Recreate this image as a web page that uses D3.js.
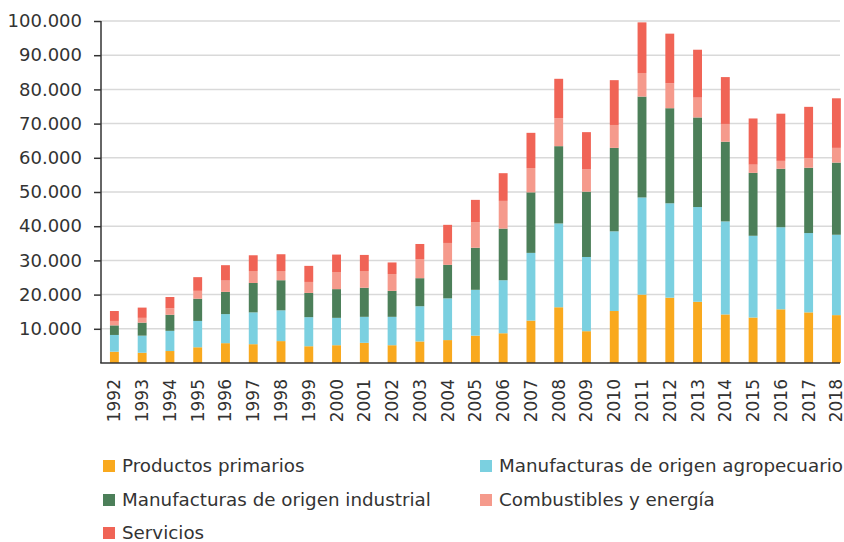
<!DOCTYPE html>
<html lang="es">
<head>
<meta charset="UTF-8">
<title>Exportaciones</title>
<style>
  body { margin: 0; background: #fff; }
  text { font-family: "DejaVu Sans", sans-serif; fill: #333; }
</style>
</head>
<body>
<div id="main"></div>
<script src="https://cdn.jsdelivr.net/npm/d3@7"></script>
<script>
  // datos
  const years = ["1992","1993","1994","1995","1996","1997","1998","1999","2000","2001","2002","2003","2004","2005","2006","2007","2008","2009","2010","2011","2012","2013","2014","2015","2016","2017","2018"]
  const seriesNames = ["Productos primarios", "Manufacturas de origen agropecuario", "Manufacturas de origen industrial", "Combustibles y energía", "Servicios"]
  const primarios = [3300,3000,3500,4600,5800,5500,6400,4900,5200,5900,5200,6300,6700,8000,8700,12400,16300,9300,15200,20000,19100,17900,14200,13300,15700,14800,14000]
  const moa = [4900,5000,5900,7700,8500,9300,9000,8500,8000,7600,8300,10300,12200,13400,15500,19800,24500,21700,23300,28400,27600,27700,27200,23900,24000,23200,23500]
  const moi = [2800,3800,4700,6500,6500,8600,8800,7100,8400,8500,7600,8200,9800,12300,15100,17700,22600,19100,24400,29500,27800,26200,23300,18400,17100,19100,21100]
  const combustibles = [1300,1400,1900,2300,3300,3500,2700,3200,5000,4900,4900,5600,6400,7500,8100,7100,8200,6600,6700,6900,7300,5800,5200,2400,2300,2800,4300]
  const servicios = [2900,3000,3300,4000,4500,4600,4900,4700,5100,4700,3400,4400,5300,6500,8100,10300,11500,10800,13100,14800,14500,14000,13700,13500,13800,15000,14500]
  const yTicks = [10000,20000,30000,40000,50000,60000,70000,80000,90000,100000]
  const colors = ["#f9a91e", "#7bd0e0", "#4c7f59", "#f59a8c", "#f06456"]

  const width = 844, height = 542
  const margin = { top: 21, right: 4, bottom: 179, left: 101 }

  const svg = d3.select("#main").append("svg")
    .attr("width", width)
    .attr("height", height)

  // tabla para el stack
  const table = years.map((y, i) => ({
    year: y, s0: primarios[i], s1: moa[i], s2: moi[i], s3: combustibles[i], s4: servicios[i]
  }))
  const keys = ["s0", "s1", "s2", "s3", "s4"]
  const stacked = d3.stack().keys(keys)(table)

  const x = d3.scaleBand()
    .domain(years)
    .range([margin.left - 0.5, margin.left - 0.5 + 27 * 27.77])
    .paddingInner(0.68)
    .paddingOuter(0.34)

  const y = d3.scaleLinear()
    .domain([0, 100000])
    .range([height - margin.bottom, margin.top])

  const fmt = d => d3.format(",")(d).replace(/,/g, ".")

  // grilla
  svg.append("g")
    .selectAll("line")
    .data(yTicks)
    .join("line")
    .attr("x1", margin.left)
    .attr("x2", 840)
    .attr("y1", d => y(d))
    .attr("y2", d => y(d))
    .attr("stroke", "#d9d9d9")
    .attr("stroke-width", 1.5)

  // barras
  svg.append("g")
    .selectAll("g")
    .data(stacked)
    .join("g")
    .attr("fill", (d, i) => colors[i])
    .selectAll("rect")
    .data(d => d)
    .join("rect")
    .attr("x", d => x(d.data.year))
    .attr("width", x.bandwidth())
    .attr("y", d => y(d[1]))
    .attr("height", d => y(d[0]) - y(d[1]))

  // eje y
  const yAxis = svg.append("g")
    .attr("transform", `translate(${margin.left},0)`)
    .call(d3.axisLeft(y).tickValues(yTicks).tickFormat(fmt).tickSize(7).tickPadding(12))
  yAxis.select(".domain").attr("d", `M0,${y(100000)}V${y(0)}`).attr("stroke", "#333").attr("stroke-width", 1.5)
  yAxis.selectAll(".tick line").attr("stroke", "#333").attr("stroke-width", 1.5)
  yAxis.selectAll(".tick text").style("font-size", "18px").attr("fill", "#333")

  // eje x
  svg.append("line")
    .attr("x1", margin.left - 0.75)
    .attr("x2", 840)
    .attr("y1", y(0))
    .attr("y2", y(0))
    .attr("stroke", "#333")
    .attr("stroke-width", 1.5)

  svg.append("g")
    .selectAll("text")
    .data(years)
    .join("text")
    .attr("transform", d => `translate(${x(d) + x.bandwidth() / 2 + 6},${y(0) + 16}) rotate(-90)`)
    .attr("text-anchor", "end")
    .style("font-size", "17px")
    .text(d => d)

  // leyenda
  const legendPos = [[103, 466], [480, 466], [103, 500], [480, 500], [103, 533]]
  const legend = svg.append("g")
    .selectAll("g")
    .data(seriesNames)
    .join("g")
    .attr("transform", (d, i) => `translate(${legendPos[i][0]},${legendPos[i][1]})`)
  legend.append("rect")
    .attr("x", 0)
    .attr("y", -6)
    .attr("width", 12)
    .attr("height", 12)
    .attr("fill", (d, i) => colors[i])
  legend.append("text")
    .attr("x", 19)
    .attr("dy", "0.35em")
    .style("font-size", "18.3px")
    .text(d => d)
</script>
</body>
</html>
